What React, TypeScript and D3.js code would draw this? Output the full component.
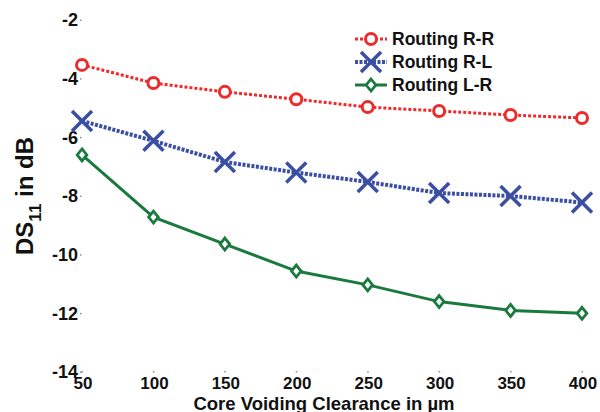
import * as d3 from "d3"

const clearances = [50, 100, 150, 200, 250, 300, 350, 400]
const routingRR = [-3.53, -4.15, -4.45, -4.7, -4.97, -5.1, -5.24, -5.34]
const routingRL = [-5.44, -6.12, -6.84, -7.2, -7.52, -7.9, -8.0, -8.22]
const routingLR = [-6.6, -8.72, -9.64, -10.56, -11.03, -11.6, -11.9, -12.0]
const yTicks = [-2, -4, -6, -8, -10, -12, -14]

const series = [
  { name: "Routing R-R", values: routingRR, color: "#ee2b2b", dash: "3,2", width: 3, marker: "circle" },
  { name: "Routing R-L", values: routingRL, color: "#3a4fa3", dash: "3,1.5", width: 4, marker: "x" },
  { name: "Routing L-R", values: routingLR, color: "#1a7a3d", dash: null, width: 3, marker: "diamond" },
]

function Marker({ type, x, y, color }: { type: string; x: number; y: number; color: string }) {
  if (type === "circle")
    return <circle cx={x} cy={y} r={5.5} fill="white" stroke={color} strokeWidth={3} />
  if (type === "x") {
    const s = 10
    return (
      <g stroke={color} strokeWidth={3.5}>
        <line x1={x - s} y1={y - s} x2={x + s} y2={y + s} />
        <line x1={x - s} y1={y + s} x2={x + s} y2={y - s} />
      </g>
    )
  }
  const s = 6
  return (
    <path
      d={`M${x},${y - s}L${x + s * 0.8},${y}L${x},${y + s}L${x - s * 0.8},${y}Z`}
      fill="white"
      stroke={color}
      strokeWidth={2.8}
    />
  )
}

export default function App() {
  const width = 600
  const height = 412

  const x = d3.scaleLinear().domain([50, 400]).range([82, 582])
  const y = d3.scaleLinear().domain([-2, -14]).range([20, 372])

  const line = d3.line<number>()
    .x((d, i) => x(clearances[i]))
    .y(d => y(d))

  const font = "Liberation Sans, Arial, sans-serif"

  return (
    <svg width={width} height={height} style={{ position: "absolute", left: 0, top: 0, background: "white" }}>
      {/* y ticks */}
      {yTicks.map(t => (
        <g key={t}>
          <rect x={80} y={y(t) - 0.5} width={1.5} height={1.5} fill="#7a9a80" />
          <text x={78} y={y(t)} dy="0.36em" textAnchor="end" fontFamily={font} fontWeight="bold" fontSize={18} fill="#111">
            {t}
          </text>
        </g>
      ))}

      {/* x ticks */}
      {clearances.map(c => (
        <g key={c}>
          <rect x={x(c) - 0.5} y={371} width={1.5} height={1.5} fill="#7a9a80" />
          <text x={x(c) + 1} y={389} textAnchor="middle" fontFamily={font} fontWeight="bold" fontSize={17} fill="#111">
            {c}
          </text>
        </g>
      ))}

      {/* axis titles */}
      <text x={324} y={410} textAnchor="middle" fontFamily={font} fontWeight="bold" fontSize={18.5} fill="#111">
        Core Voiding Clearance in µm
      </text>
      <text transform="translate(33,196) rotate(-90)" textAnchor="middle" fontFamily={font} fontWeight="bold" fontSize={24} fill="#111">
        DS<tspan fontSize={17} dy={8}>11</tspan><tspan dy={-8}> in dB</tspan>
      </text>

      {/* series */}
      {series.map(s => (
        <g key={s.name}>
          <path d={line(s.values) ?? ""} fill="none" stroke={s.color} strokeWidth={s.width} strokeDasharray={s.dash ?? undefined} />
          {s.values.map((v, i) => (
            <Marker key={i} type={s.marker} x={x(clearances[i])} y={y(v)} color={s.color} />
          ))}
        </g>
      ))}

      {/* legend */}
      {series.map((s, i) => {
        const ly = 39 + i * 23
        return (
          <g key={s.name}>
            <line x1={355} x2={387} y1={ly} y2={ly} stroke={s.color} strokeWidth={s.width} strokeDasharray={s.dash ?? undefined} />
            <Marker type={s.marker} x={371} y={ly} color={s.color} />
            <text x={392} y={ly} dy="0.36em" fontFamily={font} fontWeight="bold" fontSize={17.5} fill="#111">
              {s.name}
            </text>
          </g>
        )
      })}
    </svg>
  )
}
